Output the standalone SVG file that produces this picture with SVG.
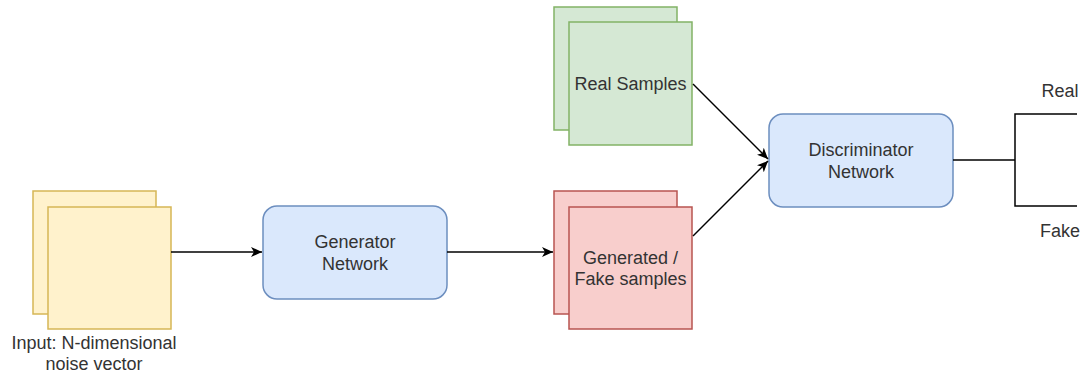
<svg xmlns="http://www.w3.org/2000/svg" width="1081" height="374" viewBox="0 0 1081 374">
<defs>
<style>
text{font-family:"Liberation Sans",Arial,Helvetica,sans-serif;font-size:18px;fill:#333333;text-anchor:middle}
.y{fill:#fff2cc;stroke:#d6b656;stroke-width:1.5}
.g{fill:#d5e8d4;stroke:#82b366;stroke-width:1.5}
.r{fill:#f8cecc;stroke:#b85450;stroke-width:1.5}
.b{fill:#dae8fc;stroke:#6c8ebf;stroke-width:1.5}
.c{fill:none;stroke:#000000;stroke-width:1.5}
</style>
<marker id="arr" markerWidth="12" markerHeight="10" viewBox="0 0 12 10" refX="11" refY="5" orient="auto" markerUnits="userSpaceOnUse">
<path d="M0,0 L11,5 L0,10 L3,5 Z" fill="#000000"/>
</marker>
</defs>
<g id="noise">
<rect class="y" x="33" y="191" width="123" height="123"/>
<rect class="y" x="48" y="207" width="123" height="122"/>
<text x="94" y="348.5">Input: N-dimensional</text>
<text x="94" y="369.5">noise vector</text>
</g>
<g id="generator">
<rect class="b" x="263" y="206" width="184" height="93" rx="14" ry="14"/>
<text x="355" y="248">Generator</text>
<text x="355" y="269.5">Network</text>
</g>
<g id="real">
<rect class="g" x="554" y="7" width="123" height="123"/>
<rect class="g" x="569" y="22" width="123" height="123"/>
<text x="630.5" y="90">Real Samples</text>
</g>
<g id="fake">
<rect class="r" x="554" y="191" width="123" height="123"/>
<rect class="r" x="569" y="207" width="123" height="122"/>
<text x="630.5" y="263.5">Generated /</text>
<text x="630.5" y="285">Fake samples</text>
</g>
<g id="discriminator">
<rect class="b" x="769" y="114" width="184" height="93" rx="14" ry="14"/>
<text x="861" y="156">Discriminator</text>
<text x="861" y="177.5">Network</text>
</g>
<g id="outputs">
<text x="1060" y="96.5">Real</text>
<text x="1060" y="236.5">Fake</text>
</g>
<g id="connectors">
<line class="c" x1="171" y1="252" x2="262" y2="252" marker-end="url(#arr)"/>
<line class="c" x1="447" y1="252" x2="553" y2="252" marker-end="url(#arr)"/>
<line class="c" x1="693" y1="84" x2="768" y2="159" marker-end="url(#arr)"/>
<line class="c" x1="693" y1="236" x2="768" y2="161" marker-end="url(#arr)"/>
<polyline class="c" points="953,160 1015,160"/>
<polyline class="c" points="1077,114 1015,114 1015,206 1077,206"/>
</g>
</svg>
